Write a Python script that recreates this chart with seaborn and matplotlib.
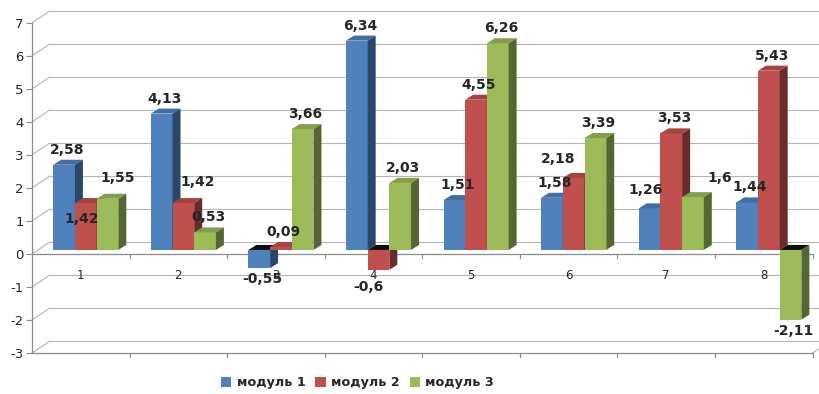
import matplotlib
matplotlib.use("Agg")
import matplotlib.pyplot as plt
import seaborn as sns
import pandas as pd
import numpy as np
from matplotlib.patches import Polygon, Patch
from matplotlib.colors import to_rgb, to_hex

categories = ['1', '2', '3', '4', '5', '6', '7', '8']
series_names = ['модуль 1', 'модуль 2', 'модуль 3']
modul1 = [2.58, 4.13, -0.55, 6.34, 1.51, 1.58, 1.26, 1.44]
modul2 = [1.42, 1.42, 0.09, -0.6, 4.55, 2.18, 3.53, 5.43]
modul3 = [1.55, 0.53, 3.66, 2.03, 6.26, 3.39, 1.6, -2.11]
yticks = [-3, -2, -1, 0, 1, 2, 3, 4, 5, 6, 7]

colors = ['#4F81BD', '#C0504D', '#9BBB59']

df = pd.DataFrame({
    'cat': categories * 3,
    'series': sum([[s] * len(categories) for s in series_names], []),
    'value': modul1 + modul2 + modul3,
})

sns.set_style("white")
plt.rcParams['font.family'] = ['DejaVu Sans']

fig = plt.figure(figsize=(8.2, 3.94), dpi=100)
ax = fig.add_axes([0.039, 0.104, 0.952, 0.838])

sns.barplot(data=df, x='cat', y='value', hue='series', palette=colors,
            width=0.667, saturation=1, legend=False, ax=ax, zorder=3,
            linewidth=0)

ax.set_xlim(-0.5, len(categories) - 0.5)
ax.set_ylim(yticks[0], yticks[-1])

# pixel -> data unit helpers (for the 3D look)
px_x = 1 / 97.6
px_y = 1 / 32.9

# back wall grid (pseudo-3D)
gdx, gdy = 18 * px_x, 12 * px_y
gcol = '#b4b4b4'
xl, xr = ax.get_xlim()
for t in yticks:
    ax.plot([xl, xl + gdx], [t, t + gdy], color=gcol, lw=0.8,
            clip_on=False, zorder=1)
    ax.plot([xl + gdx, xr + gdx], [t + gdy, t + gdy], color=gcol,
            lw=0.8, clip_on=False, zorder=1)
# floor right edge
ax.plot([xr, xr + gdx], [yticks[0], yticks[0] + gdy], color=gcol, lw=0.8,
        clip_on=False, zorder=1)

# front axis lines (zero line and floor front) with category boundary ticks
acol = '#8c8c8c'
for base in (0, yticks[0]):
    ax.plot([xl, xr], [base, base], color=acol, lw=0.9, zorder=2,
            clip_on=False)
    for b in np.arange(0.5, len(categories) + 0.5, 1.0):
        ax.plot([b, b], [base, base - 4 * px_y], color=acol, lw=0.9,
                zorder=2, clip_on=False)

# 3D faces for bars, bars sit slightly behind the front plane
sx, sy = 5 * px_x, 4 * px_y
bdx, bdy = 8 * px_x, 5 * px_y
def darker(c, f):
    r, g, b = to_rgb(c)
    return (r * f, g * f, b * f)

hex_cols = [c.lower() for c in colors]
for p in list(ax.patches):
    w = p.get_width()
    if w == 0:
        continue
    c = p.get_facecolor()
    si = hex_cols.index(to_hex(c).lower())
    z = 3 + si * 0.1
    p.set_zorder(z)
    p.set_x(p.get_x() + sx)
    p.set_y(p.get_y() + sy)
    x0 = p.get_x()
    h = p.get_height()
    y0 = p.get_y()
    ylo, yhi = min(y0, y0 + h), max(y0, y0 + h)
    top_col = darker(c, 0.85) if h >= 0 else (0.05, 0.05, 0.05)
    top = Polygon([(x0, yhi), (x0 + bdx, yhi + bdy), (x0 + w + bdx, yhi + bdy),
                   (x0 + w, yhi)], closed=True, facecolor=top_col,
                  edgecolor='none', zorder=z)
    side = Polygon([(x0 + w, ylo), (x0 + w + bdx, ylo + bdy),
                    (x0 + w + bdx, yhi + bdy), (x0 + w, yhi)], closed=True,
                   facecolor=darker(c, 0.55), edgecolor='none', zorder=z)
    ax.add_patch(top)
    ax.add_patch(side)

# value labels; (series, category) -> nudge in pixels, as placed in the original
nudge = {(1, 0): (-7, -31), (2, 0): (7, 6), (1, 1): (11, 6),
         (1, 5): (-19, 4), (0, 6): (-7, 3), (2, 6): (24, 4),
         (1, 3): (-13, -6)}
n = len(series_names)
bw = 0.667 / n
for si, vals in enumerate([modul1, modul2, modul3]):
    for ci, v in enumerate(vals):
        xc = ci - 0.667 / 2 + bw * (si + 0.5) + sx
        ndx, ndy = nudge.get((si, ci), (0, 0))
        txt = f"{v:g}".replace('.', ',')
        if v >= 0:
            yc = v + sy + 15 * px_y
        else:
            yc = v + sy - 11 * px_y
        ax.text(xc + (3 + ndx) * px_x, yc + ndy * px_y, txt, ha='center',
                va='center', fontsize=10, fontweight='bold', zorder=5)

# category labels just below zero line
for ci, c in enumerate(categories):
    ax.text(ci, -21 * px_y, c, ha='center', va='center', fontsize=8.5, zorder=2.5)

ax.set_xticks([])
ax.set_yticks(yticks)
ax.set_yticklabels([str(t) for t in yticks], fontsize=9.5)
ax.tick_params(axis='y', length=4, color=acol, pad=2, left=True)
ax.set_xlabel('')
ax.set_ylabel('')
for s in ['top', 'right', 'bottom']:
    ax.spines[s].set_visible(False)
ax.spines['left'].set_color(acol)
ax.spines['left'].set_linewidth(0.9)

handles = [Patch(facecolor=c, edgecolor='none') for c in colors]
leg = fig.legend(handles, series_names, loc='center', bbox_to_anchor=(0.436, 0.028),
                 ncol=3, frameon=False, handlelength=0.8, handleheight=0.8,
                 handletextpad=0.4, columnspacing=0.8,
                 prop={'weight': 'bold', 'size': 9.2})

fig.savefig('out.png', dpi=100)
